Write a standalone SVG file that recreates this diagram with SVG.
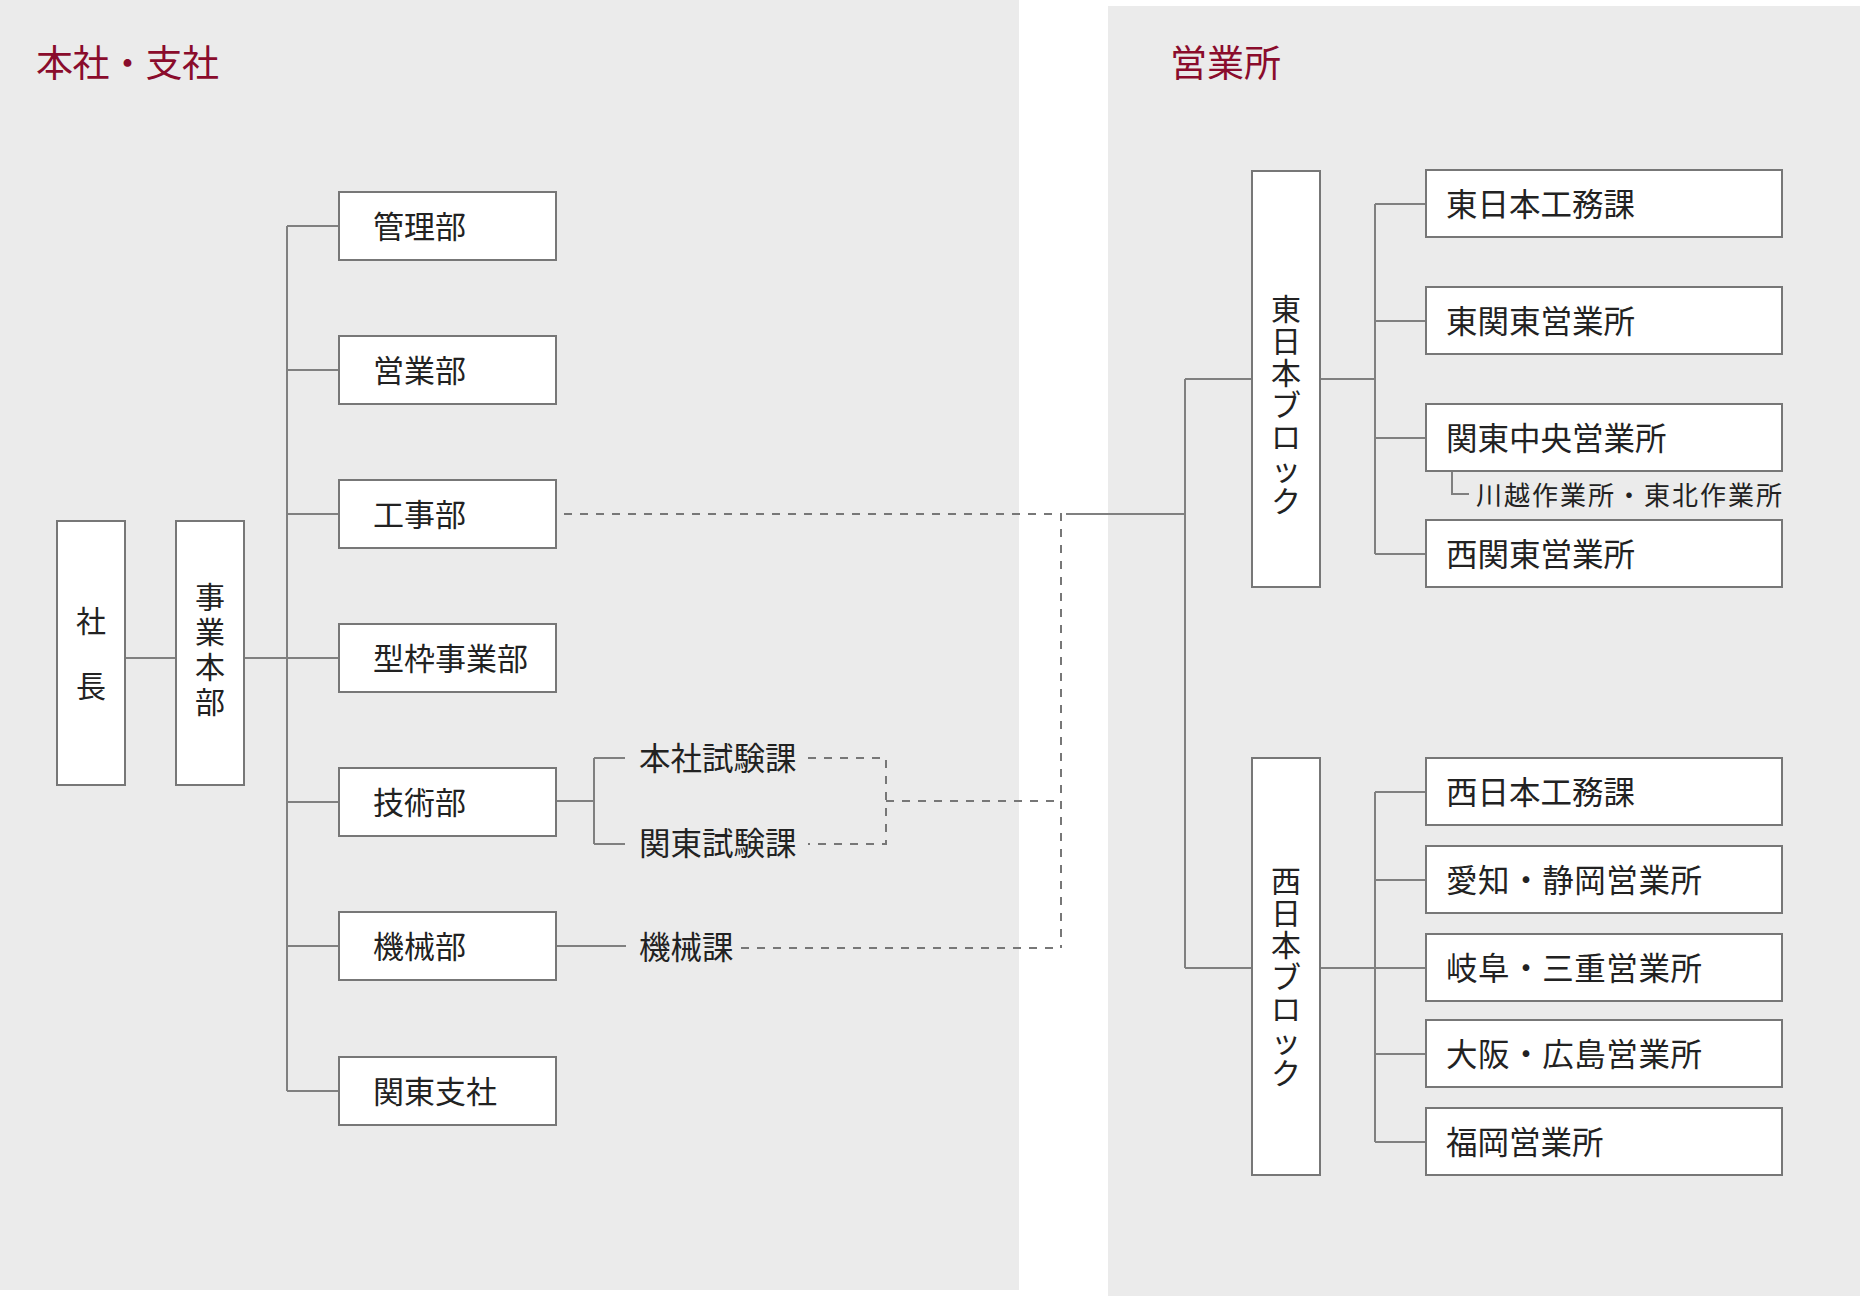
<svg xmlns="http://www.w3.org/2000/svg" width="1860" height="1297" viewBox="0 0 1860 1297">
<style>
.panel{fill:#ebebeb}
.box{fill:#fff;stroke:#777;stroke-width:2}
.ln{fill:none;stroke:#808080;stroke-width:2}
.dash{fill:none;stroke:#777;stroke-width:2;stroke-dasharray:8 8}
.t{font-family:"Noto Sans CJK JP","Noto Sans CJK SC",sans-serif;fill:#222}
.l{font-size:31px}
.m{font-size:31.5px}
.r{font-size:31.5px}
.s{font-size:26px}
.v{font-size:30px;text-anchor:middle}
.vt{font-size:30px;writing-mode:vertical-rl;font-feature-settings:"vert" 0}
.title{font-family:"Noto Sans CJK JP","Noto Sans CJK SC",sans-serif;font-size:37px;fill:#8a0c2c}
</style>
<rect width="1860" height="1297" fill="#fff"/>
<rect class="panel" x="0" y="0" width="1019" height="1290"/>
<rect class="panel" x="1108" y="6" width="752" height="1290"/>
<text class="title" x="36" y="77" textLength="183">本社・支社</text>
<text class="title" x="1170" y="77">営業所</text>

<g id="connectors">
<path class="ln" d="M125 658H176M244 658H287M287 226V1091M287 226H339M287 370H339M287 514H339M287 658H339M287 802H339M287 946H339M287 1091H339"/>
<path class="ln" d="M556 801H594M594 758V844M594 758H625M594 844H625M556 946H626"/>
<path class="dash" d="M564 514H1061V948M808 758H886V844H808M886 801H1061M741 948H1061"/>
<path class="ln" d="M1066 514H1185M1185 379V968M1185 379H1252M1185 968H1252"/>
<path class="ln" d="M1320 379H1375M1375 204V554M1375 204H1426M1375 321H1426M1375 438H1426M1375 554H1426"/>
<path class="ln" d="M1320 968H1375M1375 792V1142M1375 792H1426M1375 880H1426M1375 968H1426M1375 1054H1426M1375 1142H1426"/>
<path class="ln" d="M1452 472V494H1469"/>
</g>

<g id="shacho"><rect class="box" x="57" y="521" width="68" height="264"/><text class="t v" x="91"><tspan x="91" y="632">社</tspan><tspan x="91" y="697">長</tspan></text></g>
<g id="jigyohonbu"><rect class="box" x="176" y="521" width="68" height="264"/><text class="t vt" x="210" y="582" style="letter-spacing:5px">事業本部</text></g>

<g id="kanribu"><rect class="box" x="339" y="192" width="217" height="68"/><text class="t l" x="373" y="238">管理部</text></g>
<g id="eigyobu"><rect class="box" x="339" y="336" width="217" height="68"/><text class="t l" x="373" y="382">営業部</text></g>
<g id="kojibu"><rect class="box" x="339" y="480" width="217" height="68"/><text class="t l" x="373" y="526">工事部</text></g>
<g id="katawaku"><rect class="box" x="339" y="624" width="217" height="68"/><text class="t l" x="373" y="670">型枠事業部</text></g>
<g id="gijutsubu"><rect class="box" x="339" y="768" width="217" height="68"/><text class="t l" x="373" y="814">技術部</text></g>
<g id="kikaibu"><rect class="box" x="339" y="912" width="217" height="68"/><text class="t l" x="373" y="958">機械部</text></g>
<g id="kanto-shisha"><rect class="box" x="339" y="1057" width="217" height="68"/><text class="t l" x="373" y="1103">関東支社</text></g>

<g id="honsha-shiken"><text class="t m" x="639" y="770">本社試験課</text></g>
<g id="kanto-shiken"><text class="t m" x="639" y="855">関東試験課</text></g>
<g id="kikaika"><text class="t m" x="639" y="959">機械課</text></g>

<g id="higashi-block"><rect class="box" x="1252" y="171" width="68" height="416"/><text class="t vt" x="1286" y="294" style="letter-spacing:2px">東日本ブロック</text></g>
<g id="nishi-block"><rect class="box" x="1252" y="758" width="68" height="417"/><text class="t vt" x="1286" y="866" style="letter-spacing:2px">西日本ブロック</text></g>

<g id="higashi-komu"><rect class="box" x="1426" y="170" width="356" height="67"/><text class="t r" x="1446" y="216">東日本工務課</text></g>
<g id="higashi-kanto"><rect class="box" x="1426" y="287" width="356" height="67"/><text class="t r" x="1446" y="333">東関東営業所</text></g>
<g id="kanto-chuo"><rect class="box" x="1426" y="404" width="356" height="67"/><text class="t r" x="1446" y="450">関東中央営業所</text></g>
<g id="kawagoe"><text class="t s" x="1476" y="505" textLength="306">川越作業所・東北作業所</text></g>
<g id="nishi-kanto"><rect class="box" x="1426" y="520" width="356" height="67"/><text class="t r" x="1446" y="566">西関東営業所</text></g>

<g id="nishi-komu"><rect class="box" x="1426" y="758" width="356" height="67"/><text class="t r" x="1446" y="804">西日本工務課</text></g>
<g id="aichi"><rect class="box" x="1426" y="846" width="356" height="67"/><text class="t r" x="1446" y="892" textLength="256">愛知・静岡営業所</text></g>
<g id="gifu"><rect class="box" x="1426" y="934" width="356" height="67"/><text class="t r" x="1446" y="980" textLength="256">岐阜・三重営業所</text></g>
<g id="osaka"><rect class="box" x="1426" y="1020" width="356" height="67"/><text class="t r" x="1446" y="1066" textLength="256">大阪・広島営業所</text></g>
<g id="fukuoka"><rect class="box" x="1426" y="1108" width="356" height="67"/><text class="t r" x="1446" y="1154">福岡営業所</text></g>
</svg>
